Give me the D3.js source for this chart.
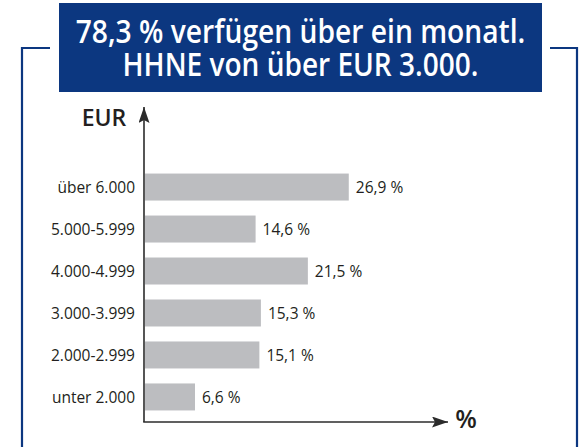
<!DOCTYPE html>
<html>
<head>
<meta charset="utf-8">
<script src="https://cdn.jsdelivr.net/npm/d3@7"></script>
<style>
  body { margin: 0; background: #fff; }
  svg { display: block; }
  text { font-family: "Open Sans", "DejaVu Sans", sans-serif; fill: #231f20; }
</style>
</head>
<body>
<div id="chart"></div>
<script>
// data
const categories = ["über 6.000", "5.000-5.999", "4.000-4.999", "3.000-3.999", "2.000-2.999", "unter 2.000"];
const values = [26.9, 14.6, 21.5, 15.3, 15.1, 6.6];
const titleLines = ["78,3 % verfügen über ein monatl.", "HHNE von über EUR 3.000."];
const yAxisLabel = "EUR";
const xAxisLabel = "%";

const width = 584, height = 447;
const blue = "#0c3780";
const barColor = "#bcbdc0";
const axisColor = "#2b2b2b";

const svg = d3.select("#chart").append("svg")
  .attr("width", width)
  .attr("height", height);

// frame bracket around chart
svg.append("path")
  .attr("d", "M50,48 H22 V447 M550,48 H577 V447")
  .attr("fill", "none")
  .attr("stroke", blue)
  .attr("stroke-width", 2.2);

// title box
svg.append("rect")
  .attr("x", 59).attr("y", 3)
  .attr("width", 483).attr("height", 89)
  .attr("fill", blue);

const titleWidths = [450, 356];
const titleBase = [42.5, 76];
titleLines.forEach((t, i) => {
  const tx = svg.append("text")
    .attr("text-anchor", "middle")
    .style("font-family", "'Open Sans', sans-serif")
    .style("font-weight", "600")
    .style("font-size", "33px")
    .style("fill", "#fff")
    .text(t);
  const w = tx.node().getComputedTextLength();
  tx.attr("transform", `translate(300.5,${titleBase[i]}) scale(${titleWidths[i] / w},1)`);
});

// scales
const x = d3.scaleLinear().domain([0, 40]).range([145, 448]);
const y = d3.scaleBand().domain(categories).range([166, 418])
  .paddingInner(0.357).paddingOuter(0.18);

// bars
svg.append("g").selectAll("rect")
  .data(values)
  .enter()
  .append("rect")
  .attr("x", x(0))
  .attr("y", (d, i) => y(categories[i]))
  .attr("width", d => x(d) - x(0))
  .attr("height", y.bandwidth())
  .attr("fill", barColor);

// value labels
svg.append("g").selectAll("text")
  .data(values)
  .enter()
  .append("text")
  .attr("x", d => x(d) + 7)
  .attr("y", (d, i) => y(categories[i]) + y.bandwidth() / 2)
  .attr("dy", "0.36em")
  .style("font-size", "15.5px")
  .text(d => d3.format(".1f")(d).replace(".", ",") + " %");

// category axis (labels only, line drawn separately)
const yAxis = d3.axisLeft(y).tickSize(0).tickPadding(9);
const gy = svg.append("g")
  .attr("transform", `translate(${x(0) - 1},0)`)
  .call(yAxis);
gy.select(".domain").remove();
gy.selectAll("text")
  .style("font-family", "'Open Sans', sans-serif")
  .style("font-size", "15.5px")
  .style("fill", "#231f20")
  .attr("dy", "0.36em");

// axis lines with arrows
svg.append("defs").append("marker")
  .attr("id", "arrow")
  .attr("viewBox", "0 0 16 11")
  .attr("refX", 16).attr("refY", 5.5)
  .attr("markerWidth", 16).attr("markerHeight", 11)
  .attr("markerUnits", "userSpaceOnUse")
  .attr("orient", "auto")
  .append("path")
  .attr("d", "M0,0 L16,5.5 L0,11 L3,5.5 Z")
  .attr("fill", axisColor);

svg.append("line")
  .attr("x1", x(0) - 1).attr("y1", 422)
  .attr("x2", x(0) - 1).attr("y2", 107)
  .attr("stroke", axisColor).attr("stroke-width", 1.6)
  .attr("marker-end", "url(#arrow)");

svg.append("line")
  .attr("x1", x(0) - 1.8).attr("y1", 422)
  .attr("x2", x(40)).attr("y2", 422)
  .attr("stroke", axisColor).attr("stroke-width", 1.6)
  .attr("marker-end", "url(#arrow)");

// axis titles
svg.append("text")
  .attr("x", 104).attr("y", 126)
  .attr("text-anchor", "middle")
  .style("font-size", "23px")
  .style("font-weight", "600")
  .text(yAxisLabel);

svg.append("text")
  .attr("x", 466).attr("y", 428)
  .attr("text-anchor", "middle")
  .style("font-size", "25px")
  .style("font-weight", "600")
  .text(xAxisLabel);
</script>
</body>
</html>
